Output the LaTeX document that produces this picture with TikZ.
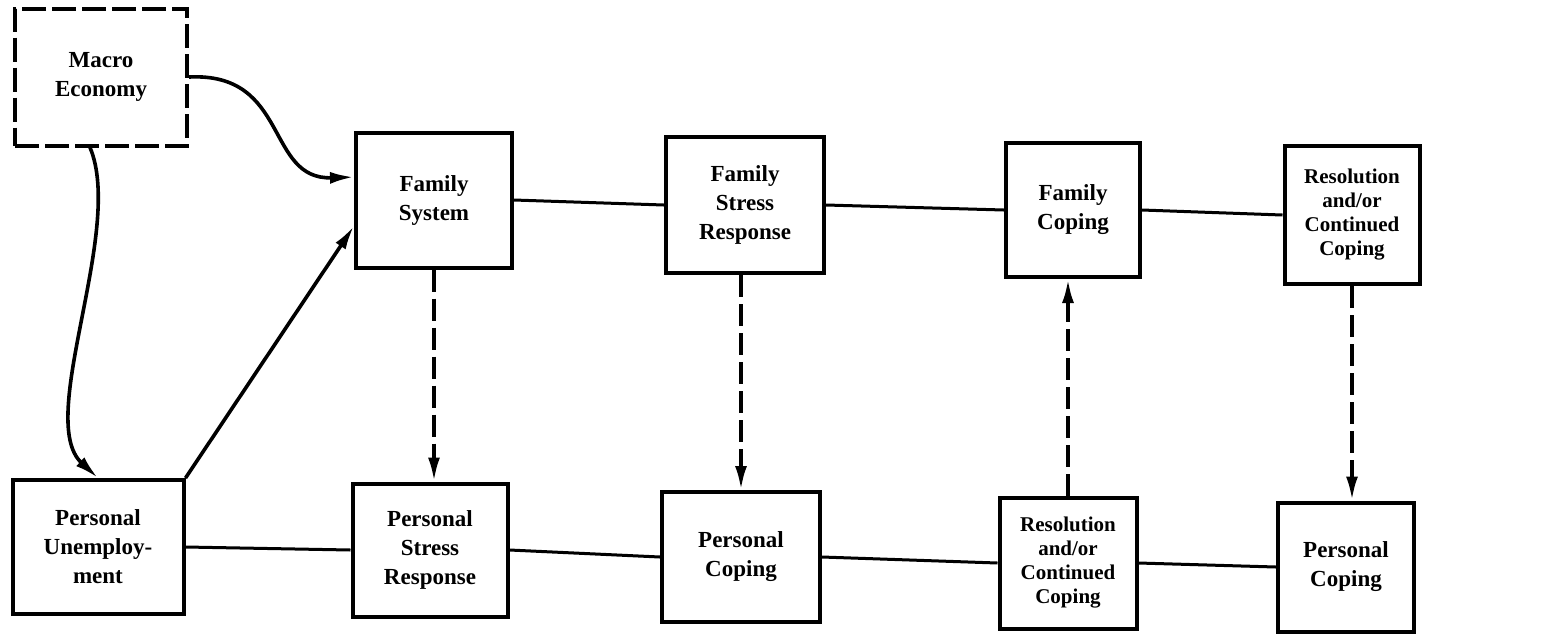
\documentclass[tikz,border=0pt]{standalone}
\usepackage{fontspec}
\setmainfont{Liberation Serif}
\usetikzlibrary{arrows.meta}
\begin{document}
\begin{tikzpicture}[x=0.5pt,y=-0.5pt]
\tikzstyle{every node}=[draw, line width=2pt, align=center, inner sep=0pt, font=\bfseries\fontsize{11.5}{14.5}\selectfont]
\tikzstyle{fourline}=[font=\bfseries\fontsize{10.5}{12}\selectfont]
\tikzstyle{link}=[line width=1.5pt]
\tikzstyle{push}=[line width=1.8pt, -{Latex[length=12pt,width=6pt]}]
\tikzstyle{spill}=[push, dash pattern=on 11pt off 3.5pt]
\useasboundingbox (0,0) rectangle (1549,634);
\draw (101,77) node (me) [dash pattern=on 12pt off 3pt, minimum width=86pt, minimum height=68.5pt] {Macro\\Economy};
\draw (98,547) node (pu) [minimum width=85.5pt, minimum height=67pt] {Personal\\Unemploy-\\ment};
\draw (434,200) node (fs) [minimum width=78pt, minimum height=67.5pt] {Family\\System};
\draw (745,205) node (fsr) [minimum width=79pt, minimum height=68pt] {Family\\Stress\\Response};
\draw (1073,210) node (fc) [minimum width=67pt, minimum height=67pt] {Family\\Coping};
\draw (1352,215) node (rt) [fourline, minimum width=67.5pt, minimum height=69pt] {Resolution\\and/or\\Continued\\Coping};
\draw (430,550) node (psr) [minimum width=77.5pt, minimum height=66.5pt] {Personal\\Stress\\Response};
\draw (741,557) node (pc) [minimum width=79pt, minimum height=65pt] {Personal\\Coping};
\draw (1068,563) node (rb) [fourline, minimum width=68.5pt, minimum height=65.5pt] {Resolution\\and/or\\Continued\\Coping};
\draw (1346,567) node (pcr) [minimum width=68pt, minimum height=64.5pt] {Personal\\Coping};
\draw[push] (me.east) .. controls (290,72) and (265,180) .. (fs.164);
\draw[push] ([xshift=-5.5pt]me.south) .. controls (125,230) and (35,420) .. (pu.north);
\draw[push] (pu.north east) -- (fs.198);
\draw[link] (fs.east) -- (fsr.west);
\draw[link] (fsr.east) -- (fc.west);
\draw[link] (fc.east) -- (rt.west);
\draw[link] (pu.east) -- (psr.west);
\draw[link] (psr.east) -- (pc.west);
\draw[link] (pc.east) -- (rb.west);
\draw[link] (rb.east) -- (pcr.west);
\draw[spill] (fs.south) -- (fs.south |- psr.north);
\draw[spill] (pc.north |- fsr.south) -- (pc.north);
\draw[spill] (rb.north) -- (rb.north |- fc.south);
\draw[spill] (rt.south) -- (rt.south |- pcr.north);
\end{tikzpicture}
\end{document}
